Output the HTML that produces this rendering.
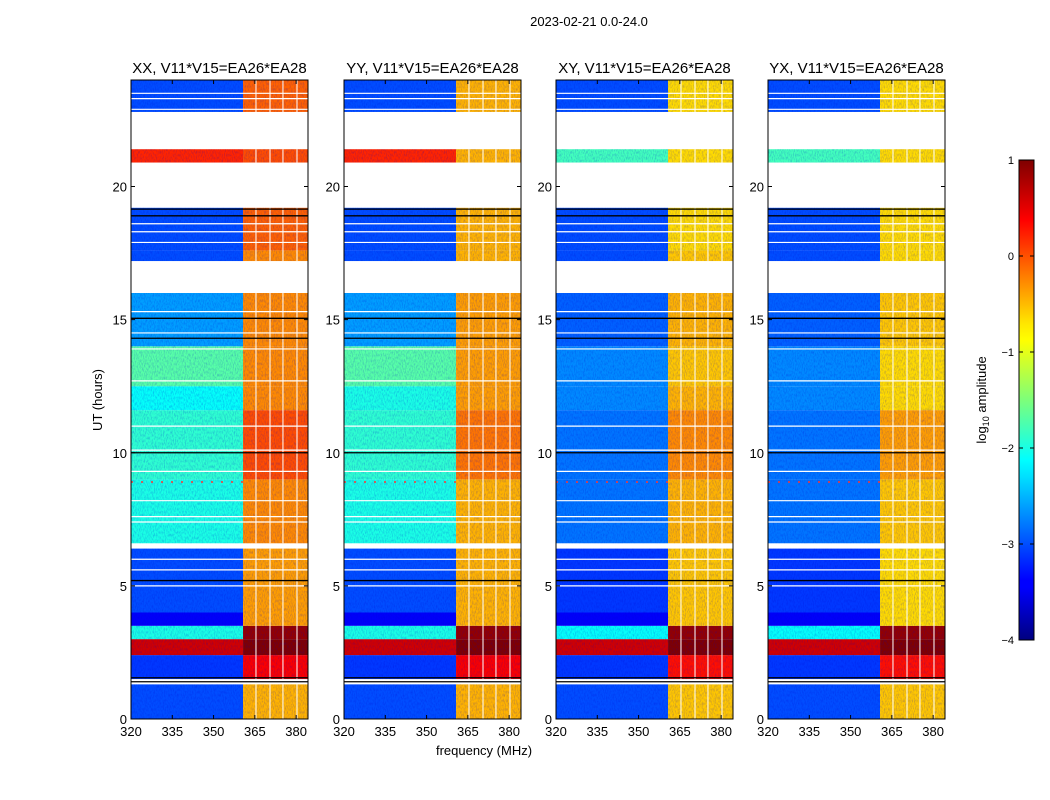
<!DOCTYPE html>
<html><head><meta charset="utf-8">
<style>
html,body{margin:0;padding:0;background:#fff;}
svg{display:block;font-family:"Liberation Sans",sans-serif;}
</style></head>
<body>
<svg id="fig" width="1050" height="800" viewBox="0 0 1050 800" xmlns="http://www.w3.org/2000/svg">
<defs>
<filter id="noise" x="0" y="0" width="100%" height="100%">
<feTurbulence type="fractalNoise" baseFrequency="0.9 0.35" numOctaves="2" seed="3"/>
<feColorMatrix type="matrix" values="0 0 0 0 0  0 0 0 0 0  0 0 0 0 0.6  0 0 0 1.1 -0.45"/>
</filter>
<linearGradient id="jetgrad" x1="0" y1="1" x2="0" y2="0">
<stop offset="0" stop-color="#00007f"/><stop offset="0.11" stop-color="#0000ff"/>
<stop offset="0.125" stop-color="#0000ff"/><stop offset="0.34" stop-color="#00dfff"/>
<stop offset="0.375" stop-color="#00ffff"/><stop offset="0.5" stop-color="#7dff7a"/>
<stop offset="0.625" stop-color="#ffff00"/><stop offset="0.66" stop-color="#ffe600"/>
<stop offset="0.875" stop-color="#ff0000"/><stop offset="1" stop-color="#7f0000"/>
</linearGradient>
</defs>
<text x="589" y="26" font-size="13" text-anchor="middle">2023-02-21 0.0-24.0</text>
<text x="484" y="755" font-size="13" text-anchor="middle">frequency (MHz)</text>
<text transform="translate(102,400) rotate(-90)" font-size="13" text-anchor="middle">UT (hours)</text>
<g id="panels"></g>
<g id="cbar">
<rect x="1019" y="160" width="15" height="480" fill="url(#jetgrad)" stroke="#000" stroke-width="1"/>
</g>
<text transform="translate(986,400) rotate(-90)" font-size="13" text-anchor="middle">log<tspan font-size="9" dy="3">10</tspan><tspan dy="-3"> amplitude</tspan></text>
</svg>
<script>
// ---- data ----
const panelTitles = ["XX, V11*V15=EA26*EA28","YY, V11*V15=EA26*EA28","XY, V11*V15=EA26*EA28","YX, V11*V15=EA26*EA28"];
const rowStart = [0.0,1.5,2.4,3.0,3.5,4.0,6.6,9.0,11.6,12.5,14.0,17.2,17.6,20.9,22.8];
const rowEnd   = [1.3,2.4,3.0,3.5,4.0,6.4,9.0,11.6,12.5,14.0,16.0,17.6,19.2,21.4,24.0];
const lowXX  = [-3.0,-3.1,0.6,-2.0,-3.4,-3.0,-2.0,-1.9,-2.1,-1.7,-2.6,-3.0,-3.0,0.2,-3.0];
const highXX = [-0.5,0.4,1.0,0.9,-0.4,-0.4,-0.3,0.0,-0.3,-0.3,-0.3,-0.3,-0.1,0.0,-0.1];
const lowYY  = [-3.0,-3.1,0.6,-2.0,-3.4,-3.0,-2.0,-1.9,-2.0,-1.7,-2.6,-3.0,-3.0,0.2,-3.0];
const highYY = [-0.5,0.4,1.0,0.9,-0.5,-0.5,-0.5,-0.2,-0.4,-0.4,-0.4,-0.5,-0.5,-0.5,-0.5];
const lowXY  = [-3.0,-3.1,0.6,-2.1,-3.4,-3.1,-2.8,-2.8,-2.7,-2.7,-2.9,-3.0,-3.0,-1.8,-3.0];
const highXY = [-0.6,0.3,1.0,0.9,-0.6,-0.6,-0.5,-0.3,-0.5,-0.6,-0.5,-0.6,-0.7,-0.7,-0.7];
const lowYX  = [-3.0,-3.1,0.6,-2.1,-3.4,-3.1,-2.8,-2.8,-2.7,-2.7,-2.9,-3.0,-3.0,-1.8,-3.0];
const highYX = [-0.6,0.3,1.0,0.9,-0.7,-0.7,-0.6,-0.4,-0.7,-0.7,-0.6,-0.7,-0.7,-0.7,-0.7];
const lowSeries  = [lowXX,lowYY,lowXY,lowYX];
const highSeries = [highXX,highYY,highXY,highYX];
const bandEdge = 360.7;
const whiteLines = [5.0,5.6,6.0,7.4,7.6,8.2,9.3,10.1,11.0,12.7,13.9,14.5,15.3,17.9,18.3,18.6,22.9,23.3,23.5];
const blackLines = [1.4,1.55,5.2,10.0,14.3,15.05,18.9,19.15];
const flareHour = 8.9;
const vLinesHigh = [365.4,370.5,375.2,380.3];
const xTicks = [320,335,350,365,380];
const yTicks = [0,5,10,15,20];
const cbTicks = [1,0,-1,-2,-3,-4];
// ---- layout ----
const panelX = [131,344,556,768], pw = 177, yTop = 80, yBot = 719;
const fmin = 320, fmax = 384.3, tmin = 0, tmax = 24, vmin = -4, vmax = 1;
const NS = "http://www.w3.org/2000/svg";
function jet(v){
  let t = Math.max(0,Math.min(1,(v-vmin)/(vmax-vmin)));
  const c = x => Math.round(255*Math.max(0,Math.min(1,x)));
  return `rgb(${c(1.5-Math.abs(4*t-3))},${c(1.5-Math.abs(4*t-2))},${c(1.5-Math.abs(4*t-1))})`;
}
function mk(tag, attrs, parent){
  const e = document.createElementNS(NS, tag);
  for (const k in attrs) e.setAttribute(k, attrs[k]);
  parent.appendChild(e); return e;
}
const root = document.getElementById('panels');
panelX.forEach((x0, p) => {
  const xs = f => x0 + (f-fmin)/(fmax-fmin)*pw;
  const ys = h => yBot - (h-tmin)/(tmax-tmin)*(yBot-yTop);
  const g = mk('g', {}, root);
  
  
  const cells = mk('g', {}, g);
  
  
  const clipId = 'clip' + p;
  const cp = mk('clipPath', {id: clipId}, cells);
  rowStart.forEach((s, i) => {
    const lo = lowSeries[p][i], hi = highSeries[p][i];
    const y1 = ys(rowEnd[i]), h = ys(s) - y1;
    mk('rect', {x: x0, y: y1, width: pw, height: h}, cp);
    if (lo !== null) {
      const r = mk('rect', {x: xs(fmin), y: y1, width: xs(bandEdge)-xs(fmin), height: h, fill: jet(lo)}, cells);
      
      
    }
    if (hi !== null) {
      const r = mk('rect', {x: xs(bandEdge), y: y1, width: xs(fmax)-xs(bandEdge), height: h, fill: jet(hi)}, cells);
      
      
    }
  });
  mk('rect', {x: x0, y: yTop, width: pw, height: yBot-yTop, fill: '#000', filter: 'url(#noise)', opacity: 0.5, 'clip-path': 'url(#' + clipId + ')'}, cells);
  vLinesHigh.forEach(f => mk('line', {x1: xs(f), x2: xs(f), y1: yTop, y2: yBot, stroke: '#fff', 'stroke-width': 1.2, opacity: 0.85, 'clip-path': 'url(#' + clipId + ')'}, cells));
  whiteLines.forEach(h => mk('line', {x1: x0, x2: x0+pw, y1: ys(h), y2: ys(h), stroke: '#fff', 'stroke-width': 1.2}, cells));
  blackLines.forEach(h => mk('line', {x1: x0, x2: x0+pw, y1: ys(h), y2: ys(h), stroke: '#000', 'stroke-width': 1.3}, cells));
  mk('line', {x1: x0, x2: xs(bandEdge), y1: ys(flareHour), y2: ys(flareHour), stroke: '#f33', 'stroke-width': 1.5, 'stroke-dasharray': '2 8'}, cells);
  mk('rect', {x: x0, y: yTop, width: pw, height: yBot-yTop, fill: 'none', stroke: '#000', 'stroke-width': 1}, g);
  const t = mk('text', {x: x0+pw/2, y: 73, 'font-size': 15, 'text-anchor': 'middle'}, g);
  t.textContent = panelTitles[p];
  
  
  xTicks.forEach(f => {
    mk('line', {x1: xs(f), x2: xs(f), y1: yBot, y2: yBot-4, stroke: '#000'}, g);
    mk('line', {x1: xs(f), x2: xs(f), y1: yTop, y2: yTop+4, stroke: '#000'}, g);
    const l = mk('text', {x: xs(f), y: yBot+17, 'font-size': 13, 'text-anchor': 'middle'}, g);
    l.textContent = f;
    
    
  });
  yTicks.forEach(h => {
    mk('line', {x1: x0, x2: x0+4, y1: ys(h), y2: ys(h), stroke: '#000'}, g);
    mk('line', {x1: x0+pw, x2: x0+pw-4, y1: ys(h), y2: ys(h), stroke: '#000'}, g);
    const l = mk('text', {x: x0-4, y: ys(h)+5, 'font-size': 13, 'text-anchor': 'end'}, g);
    l.textContent = h;
    
    
  });
});
const cb = document.getElementById('cbar');
cbTicks.forEach(v => {
  const y = 640 - (v-vmin)/(vmax-vmin)*480;
  mk('line', {x1: 1019, x2: 1023, y1: y, y2: y, stroke: '#000'}, cb);
  mk('line', {x1: 1030, x2: 1034, y1: y, y2: y, stroke: '#000'}, cb);
  const l = mk('text', {x: 1014, y: y+4, 'font-size': 11, 'text-anchor': 'end'}, cb);
  l.textContent = v < 0 ? '\u2212' + (-v) : v;
  
  
});
</script>
</body></html>
